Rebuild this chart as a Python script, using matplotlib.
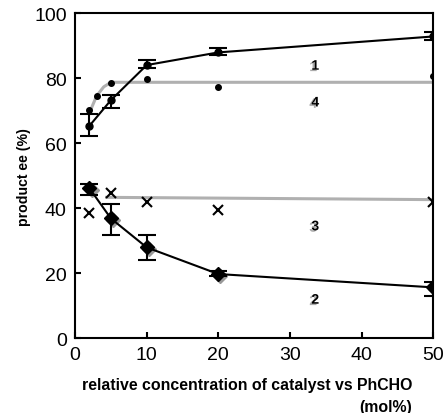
import matplotlib
matplotlib.use('Agg')
import matplotlib.pyplot as plt
import matplotlib.patheffects as pe

plt.rcParams['font.family'] = ['Liberation Sans', 'DejaVu Sans']

# Data
x_main = [2, 5, 10, 20, 50]
ee_1 = [65.3, 73.2, 84.0, 87.9, 92.8]
err1_lo = [62.3, 70.8, 83.2, 87.0, 91.8]
err1_hi = [69.0, 74.9, 85.7, 89.4, 94.3]

ee_2 = [46.1, 36.8, 27.9, 19.7, 15.6]
err2_lo = [44.0, 31.7, 24.1, 19.0, 12.8]
err2_hi = [47.4, 41.2, 31.7, 20.5, 17.4]

x_4 = [2, 3, 5, 10, 20, 50]
ee_4 = [70.3, 74.6, 78.4, 79.7, 77.4, 80.5]
fit4_x = [2.1, 3, 4, 5, 50]
fit4_y = [69.8, 74.5, 77.3, 78.7, 78.7]

ee_3 = [38.4, 44.6, 42.0, 39.5, 42.0]
fit3_x = [4.4, 50]
fit3_y = [43.3, 42.6]

labels = ['1', '2', '3', '4']
label_x = [33, 33, 33, 33]
label_y = [83.8, 11.8, 34.4, 72.5]

fig = plt.figure(figsize=(4.47, 4.14), dpi=100)
ax = fig.add_axes([0.168, 0.181, 0.801, 0.785])

# gray fitted lines
ax.plot(fit4_x, fit4_y, color='#b0b0b0', lw=2.2, zorder=1)
ax.plot(fit3_x, fit3_y, color='#b0b0b0', lw=2.2, zorder=1)

# series 4 dots and series 3 crosses
ax.plot(x_4, ee_4, 'o', color='black', ms=4, zorder=3)
ax.plot(x_main, ee_3, 'x', color='black', ms=7, mew=1.5, zorder=3)

# series 1
yerr1 = [[a - b for a, b in zip(ee_1, err1_lo)], [b - a for a, b in zip(ee_1, err1_hi)]]
ax.errorbar(x_main, ee_1, yerr=yerr1, fmt='o-', color='black', ms=5, lw=1.5,
            capsize=6.5, elinewidth=1.5, capthick=1.5, zorder=4)

# series 2
yerr2 = [[a - b for a, b in zip(ee_2, err2_lo)], [b - a for a, b in zip(ee_2, err2_hi)]]
ax.plot([v + 0.3 for v in x_main], [v - 0.5 for v in ee_2], 'D', color='#999999', ms=7.5, zorder=3)
ax.errorbar(x_main, ee_2, yerr=yerr2, fmt='D-', color='black', ms=7.5, lw=1.5,
            capsize=6.5, elinewidth=1.5, capthick=1.5, zorder=4)

# curve numbers with a little gray shadow
shadow = [pe.SimplePatchShadow(offset=(-1.5, -1), shadow_rgbFace='#aaaaaa', alpha=1), pe.Normal()]
for t, lx, ly in zip(labels, label_x, label_y):
    ax.text(lx, ly, t, fontsize=10, fontweight='bold', ha='left', va='center',
            path_effects=shadow)

ax.set_xlim(0, 50)
ax.set_ylim(0, 100)
ax.set_xticks([0, 10, 20, 30, 40, 50])
ax.set_yticks([0, 20, 40, 60, 80, 100])
ax.tick_params(direction='in', length=4, width=1.5, labelsize=14, pad=6)
for s in ax.spines.values():
    s.set_linewidth(1.5)
ax.set_ylabel('product ee (%)', fontsize=10.2, fontweight='bold', labelpad=2)

fig.text(0.553, 0.07, 'relative concentration of catalyst vs PhCHO', fontsize=11.4,
         fontweight='bold', ha='center', va='center')
fig.text(0.922, 0.015, '(mol%)', fontsize=11.4, fontweight='bold', ha='right', va='center')

plt.savefig('out.png', dpi=100)
